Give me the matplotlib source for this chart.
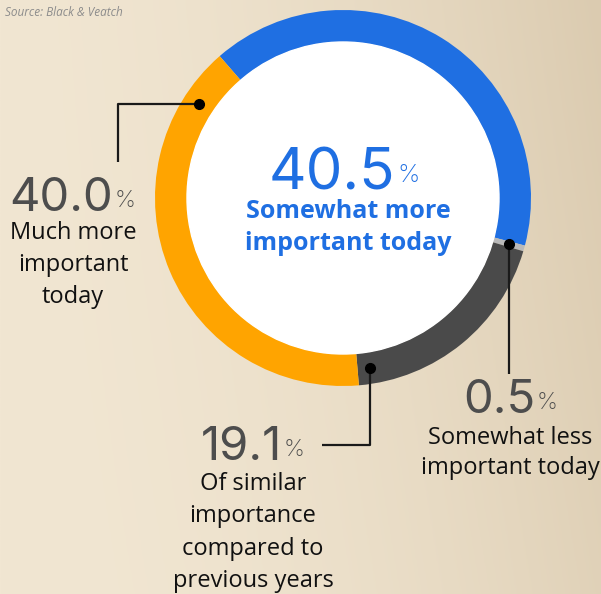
import numpy as np
import matplotlib.pyplot as plt
from matplotlib.colors import to_rgb

# Survey shares (Source: Black & Veatch)
categories = ['Somewhat more important today', 'Somewhat less important today',
              'Of similar importance compared to previous years', 'Much more important today']
values = [40.5, 0.5, 19.1, 40.0]
colors = ['#1f6fe2', '#b9b9b9', '#4a4a4a', '#ffa400']

W, H = 601, 594
fig = plt.figure(figsize=(W / 100, H / 100), dpi=100)
ax = fig.add_axes([0, 0, 1, 1])

# sandy background, plain gradient
c0 = np.array(to_rgb('#f1e6d2'))
c1 = np.array(to_rgb('#dbcbb0'))
gx = np.linspace(0, 1, 200)
gy = np.linspace(0, 1, 200)
GX, GY = np.meshgrid(gx, gy)
t = np.clip(0.75 * GX ** 2 + 0.25 * GX * (1 - GY), 0, 1)
bg = c0[None, None, :] * (1 - t[..., None]) + c1[None, None, :] * t[..., None]
ax.imshow(bg, extent=[0, W, 0, H], origin='upper', aspect='auto', zorder=0)

# donut (pixel coords, y flipped)
cx, cy = 343, H - 198
R, ring = 188, 32
wedges, _ = ax.pie(values, colors=colors, startangle=131, counterclock=False,
                   radius=R, center=(cx, cy),
                   wedgeprops=dict(width=ring, linewidth=0))
for w in wedges:
    w.set_zorder(2)
ax.add_patch(plt.Circle((cx, cy), R - ring, color='white', zorder=2))


def ring_point(w, frac):
    # point on ring middle, frac measured clockwise from wedge start
    ang = np.deg2rad(w.theta2 - frac * (w.theta2 - w.theta1))
    rm = R - ring / 2
    return cx + rm * np.cos(ang), cy + rm * np.sin(ang)


def leader(pts):
    xs, ys = zip(*pts)
    ax.plot(xs, ys, color='#1a1a1a', lw=1.6, zorder=3, solid_capstyle='butt')
    ax.plot(xs[0], ys[0], 'o', color='black', ms=7, zorder=4)


# orange (much more)
ox, oy = ring_point(wedges[3], 0.89)
leader([(ox, oy), (118, oy), (118, H - 162)])
# dark grey (similar)
dx, dy = ring_point(wedges[2], 0.94)
leader([(dx, dy), (dx, H - 445), (322, H - 445)])
# light grey (less)
lx, ly = ring_point(wedges[1], 0.5)
leader([(lx, ly), (lx, H - 374)])

num_font = 'Inter'
lab_font = 'Open Sans'
num_col = '#4d4d4d'


def big_number(x_end, y_base, txt, size, col, psize):
    ax.text(x_end, H - y_base, txt, ha='right', va='baseline', fontsize=size,
            family=num_font, weight='normal', color=col, zorder=5)
    ax.text(x_end + 2, H - y_base + size * 0.62, '%', ha='left', va='top',
            fontsize=psize, family=num_font, weight='light', color=col, zorder=5)


def label(x, y, lines, size=17, col='#111111', weight='normal', gap=32):
    for i, s in enumerate(lines):
        ax.text(x, H - y - i * gap, s, ha='center', va='center', fontsize=size,
                family=lab_font, color=col, weight=weight, zorder=5)


big_number(113, 211, '40.0', 34, num_col, 17)
label(73, 233, ['Much more', 'important', 'today'])

big_number(395, 190, '40.5', 42, '#1f6fe2', 18)
label(348, 212, ['Somewhat more', 'important today'], size=18,
      col='#1f6fe2', weight='bold', gap=31)

big_number(535, 413, '0.5', 34, num_col, 17)
label(510, 438, ['Somewhat less', 'important today'], gap=30)

big_number(282, 460, '19.1', 34, num_col, 17)
label(253, 484, ['Of similar', 'importance', 'compared to', 'previous years'], gap=32.3)

ax.text(5, H - 13, 'Source: Black & Veatch', ha='left', va='center', fontsize=8.5,
        family=lab_font, style='italic', color='#8c8c8c', zorder=5)

ax.set_xlim(0, W)
ax.set_ylim(0, H)
ax.set_aspect('auto')
ax.axis('off')

plt.savefig('out.png', dpi=100)
